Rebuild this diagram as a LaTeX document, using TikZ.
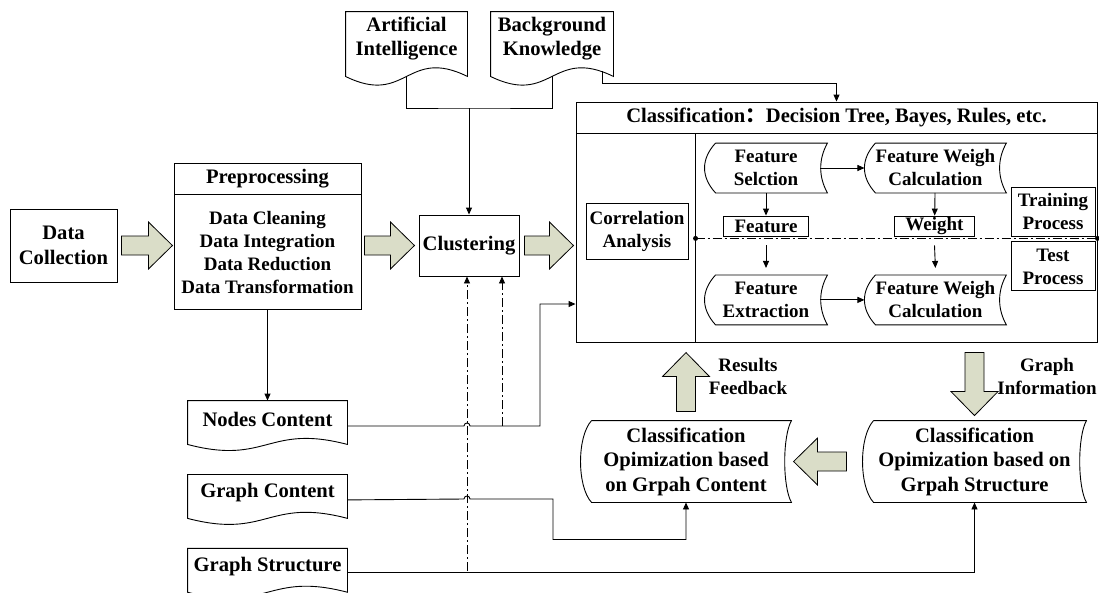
\documentclass[tikz,border=0pt]{standalone}
\usepackage{fontspec}
\setmainfont{Liberation Serif}
\newfontfamily\cjk{Noto Sans CJK SC}
\usepackage{tikz}
\usetikzlibrary{arrows.meta,positioning,calc}

\definecolor{arrowfill}{RGB}{218,221,200}
\tikzset{blockarr/.pic={
  \draw[fill=arrowfill, line width=0.8pt] (0,-9.5) -- ({#1-24},-9.5) -- ({#1-24},-23.5)
    -- (#1,0) -- ({#1-24},23.5) -- ({#1-24},9.5) -- (0,9.5) -- cycle;}}

\begin{document}
\begin{tikzpicture}[x=1pt, y=-1pt, line width=0.9pt,
  font=\bfseries\fontsize{19}{23}\selectfont,
  big/.style={font=\bfseries\fontsize{20.6}{24.5}\selectfont},
  box/.style={rectangle, draw, align=center, inner sep=0pt},
  doc/.style={rectangle, align=center, inner sep=0pt, big, minimum width=159pt, minimum height=36pt},
  stored/.style={rectangle, align=center, inner sep=0pt, minimum height=49pt},
  arr/.style={-{Triangle[length=7pt,width=6pt]}},
  dashdot/.style={dash pattern=on 9pt off 3pt on 2pt off 3pt},
]
  \useasboundingbox (0,0) rectangle (1099,592);

  % left column
  \node[box, big, minimum width=107pt, minimum height=73pt] (dc) at (63.5,245.5) {Data\\Collection};
  \node[box, big, minimum width=187pt, minimum height=31pt] (pretitle) at (267.5,178.5) {Preprocessing};
  \node[box, minimum width=187pt, minimum height=115pt, below=0pt of pretitle] (prebody)
    {Data Cleaning\\Data Integration\\Data Reduction\\Data Transformation};
  \node[box, big, minimum width=100pt, minimum height=61pt] (clu) at (469,245.5) {Clustering};
  \node[doc, minimum width=121pt, minimum height=53pt] (ai) at (406.5,38.5) {Artificial\\Intelligence};
  \node[doc, minimum width=122pt, minimum height=53pt] (bk) at (552,38.5) {Background\\Knowledge};
  \node[doc] (nodes) at (267.5,419) {Nodes Content};
  \node[doc, below=37pt of nodes] (gcont) {Graph Content};
  \node[doc, below=37pt of gcont] (gstruct) {Graph Structure};

  % classification block
  \node[box, big, minimum width=521pt, minimum height=31pt] (clstitle) at (836.5,117.5)
    {Classification{\cjk ：}Decision Tree, Bayes, Rules, etc.};
  \node[box, minimum width=521pt, minimum height=209pt, below=0pt of clstitle] (clsbody) {};
  \node[box, minimum width=102pt, minimum height=56pt] (corr) at (637,231) {Correlation\\Analysis};
  \node[stored, minimum width=122pt] (fs) at (766,168) {Feature\\Selction};
  \node[stored, minimum width=141pt, right=37pt of fs] (fwc) {Feature Weigh\\Calculation};
  \node[box, minimum width=85pt, minimum height=20pt] (feat) at (766,226) {Feature};
  \node[box, minimum width=80pt, minimum height=20pt] (wt) at (934.5,226) {Weight};
  \node[stored, minimum width=122pt, below=82pt of fs] (fe) {Feature\\Extraction};
  \node[stored, minimum width=141pt, below=82pt of fwc] (fwcb) {Feature Weigh\\Calculation};
  \node[box, minimum width=84pt, minimum height=49pt] (train) at (1053,211.5) {Training\\Process};
  \node[box, minimum width=84pt, minimum height=49pt, below=5pt of train] (test) {Test\\Process};

  % optimization
  \node[stored, big, minimum width=210pt, minimum height=81pt] (cogc) at (686,461.5)
    {Classification\\Opimization based\\on Grpah Content};
  \node[stored, big, minimum width=223pt, minimum height=81pt] (cogs) at (974.5,461.5)
    {Classification\\Opimization based on\\Grpah Structure};
  \node[align=center] (resfb) at (748,376.5) {Results\\Feedback};
  \node[align=center] (ginfo) at (1047,376.5) {Graph\\Information};

  % outlines
  \foreach \n/\o/\d in {ai/11/30, bk/11/30, nodes/7/21, gcont/7/21, gstruct/7/21}
    \draw (\n.north west) -- (\n.north east) -- ($(\n.south east)+(0,\o)$)
      .. controls ($(\n.south)+(0,\o-\d)$) and ($(\n.south)+(0,\o+\d)$) .. ($(\n.south west)+(0,\o)$)
      -- cycle;
  \foreach \n in {fs, fwc, fe, fwcb, cogc, cogs}
    \draw ([xshift=11pt]\n.north west) -- (\n.north east)
      .. controls +(-9,16) and +(-9,-16) .. (\n.south east)
      -- ([xshift=11pt]\n.south west)
      .. controls +(-14.7,-16) and +(-14.7,16) .. ([xshift=11pt]\n.north west);
  \draw ([xshift=120pt]clsbody.north west) -- ([xshift=120pt]clsbody.south west);

  % big arrows
  \pic at ([xshift=4pt]dc.east) {blockarr=51};
  \pic at ([xshift=3pt]prebody.east |- dc.east) {blockarr=50};
  \pic at ([xshift=5pt]clu.east) {blockarr=49};
  \pic[rotate=90] at ([yshift=9pt]cogc.north) {blockarr=59};
  \pic[rotate=-90] at ([yshift=68pt]cogs.north) {blockarr=63};
  \pic[rotate=180] at ([xshift=-16pt]cogs.west) {blockarr=53};

  % connectors
  \coordinate (ai-b) at ($(ai.south)+(0,11)$);
  \coordinate (bk-b) at ($(bk.south)+(0,11)$);
  \coordinate (bk-out) at ($(bk.south east)+(-11,6)$);
  \coordinate (merge) at (clu.north |- 0,108);
  \draw (ai-b) |- (merge) -| (bk-b);
  \draw[arr] (merge) -- (clu.north);
  \draw[arr] (bk-out) -- ++(0,12) -| (clstitle.north);
  \draw[arr] (prebody) -- (nodes);

  \draw[arr] ([yshift=-7pt]nodes.east) -- (464,426) .. controls +(0,-4) and +(0,-4) .. (470,426)
    -- (540,426) |- (clsbody.west |- 0,304);
  \draw[arr] ([yshift=-7pt]gcont.east) -- (464,499) .. controls +(0,-4) and +(0,-4) .. (470,499)
    -- (553,499) |- ($(cogc.south)+(0,37)$) -- (cogc.south);
  \draw[arr] ([yshift=-6pt]gstruct.east) -| (cogs.south);

  \coordinate (nc-j) at (502,426);
  \coordinate (gs-j) at ([xshift=-2pt]clu.south |- 0,571);
  \draw[arr, dashdot] (nc-j) -- (nc-j |- clu.south);
  \draw[arr, dashdot] (gs-j) -- (gs-j |- clu.south);

  % inside classification
  \coordinate (dl) at ([xshift=120pt]clsbody.west);
  \draw[dashdot] (dl) -- (clsbody.east);
  \fill (dl) circle (2.5pt) (clsbody.east) circle (2.5pt);
  \draw[arr] ([xshift=-7pt]fs.east) -- (fwc);
  \draw[arr] (fs) -- (feat);
  \draw[arr] (fwc) -- (wt);
  \draw[arr] ([yshift=-9pt]feat.south) -- ([yshift=7pt]fe.north);
  \draw[arr] ([yshift=-9pt]wt.south) -- ([yshift=7pt]fwcb.north);
  \draw[arr] ([xshift=-7pt]fe.east) -- (fwcb);
\end{tikzpicture}
\end{document}
